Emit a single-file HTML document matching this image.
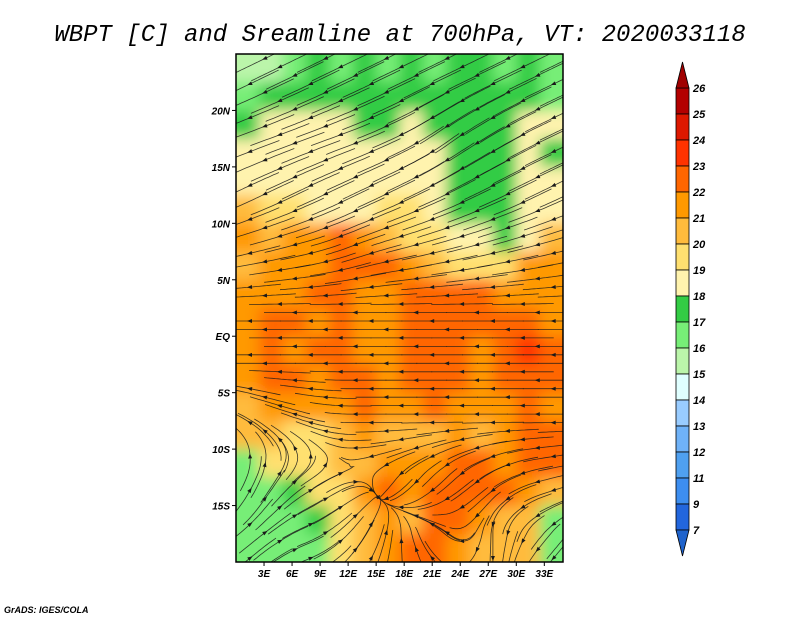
<!DOCTYPE html>
<html><head><meta charset="utf-8"><style>
body{margin:0;background:#fff;width:800px;height:618px;overflow:hidden}
svg{display:block}
</style></head><body>
<svg id="chart" width="800" height="618" viewBox="0 0 800 618" xmlns="http://www.w3.org/2000/svg">
<defs>
<clipPath id="mapclip"><rect x="236" y="54" width="327" height="508"/></clipPath>
<filter id="blur" x="-5%" y="-5%" width="110%" height="110%"><feGaussianBlur stdDeviation="7"/></filter>
</defs>
<text x="400" y="41" text-anchor="middle" font-family="Liberation Mono, monospace" font-style="italic" font-size="24" fill="#000">WBPT [C] and Sreamline at 700hPa, VT: 2020033118</text>
<g id="field" clip-path="url(#mapclip)"><g id="cells" filter="url(#blur)"></g></g>
<g id="streams" clip-path="url(#mapclip)"></g>
<rect x="236" y="54" width="327" height="508" fill="none" stroke="#000" stroke-width="1.5"/>
<g id="axes"></g>
<g id="cbar"></g>
<text x="4" y="613" font-family="Liberation Sans, sans-serif" font-style="italic" font-weight="bold" font-size="9">GrADS: IGES/COLA</text>
</svg>
<script>
// WBPT field, 2.5° cells, lon 0..35E, lat 25N..20S
const fieldRows = [
[15,15.5,16.5,17,16.5,17,16.5,17,16.5,17,17,16.5,17,16.5],
[16.5,17,17,17,17,17.5,17,17,17,17.5,17,17,17,16.5],
[17.5,18.5,18.5,18.5,18.5,17.5,17.5,18.5,17.5,17.5,17.5,17.5,18.5,18.5],
[18.5,18.5,18.5,18.5,18.5,18.5,18.5,18.5,18.5,17.5,17.5,17.5,18.5,17.5],
[18.5,18.5,18.5,18.5,18.5,18.5,18.5,18.5,18.5,17.5,17.5,17.5,18.5,18.5],
[20.5,19.5,19.5,18.5,18.5,18.5,19.5,19.5,18.5,17.5,17.5,17.5,18.5,18.5],
[21.5,20.5,21.5,21.5,22.5,21.5,20.5,19.5,19.5,18.5,18.5,17.5,18.5,20.5],
[20.5,21.5,21.5,21.5,22.5,22.5,22.5,21.5,20.5,19.5,19.5,19.5,21.5,21.5],
[21.5,21.5,21.5,22.5,22.5,21.5,21.5,22.5,22.5,22.5,22.5,21.5,21.5,21.5],
[21.5,22.5,22.5,21.5,22.5,21.5,21.5,22.5,22.5,22.5,22.5,22.5,22.5,21.5],
[21.5,22.5,21.5,22.5,22.5,21.5,21.5,22.5,22.5,22.5,21.5,22.5,23.5,22.5],
[21.5,22.5,22.5,21.5,22.5,22.5,21.5,22.5,22.5,22.5,21.5,22.5,22.5,22.5],
[20.5,21.5,21.5,21.5,21.5,22.5,21.5,21.5,22.5,21.5,21.5,21.5,22.5,21.5],
[20.5,20.5,19.5,19.5,20.5,21.5,20.5,20.5,20.5,21.5,20.5,21.5,22.5,22.5],
[16.5,19.5,19.5,19.5,20.5,20.5,21.5,21.5,21.5,22.5,22.5,21.5,22.5,22.5],
[16.5,16.5,17.5,19.5,19.5,21.5,22.5,21.5,22.5,22.5,22.5,22.5,21.5,20.5],
[16.5,16.5,16.5,17.5,19.5,20.5,21.5,20.5,22.5,22.5,21.5,20.5,20.5,16.5],
[16.5,16.5,16.5,16.5,19.5,20.5,21.5,22.5,22.5,21.5,20.5,20.5,20.5,16.5]
];
// wind field, 5° cells, lon centers 2.5..32.5, lat centers 22.5..-17.5
const windU = [
[-1,-1,-1,-1,-1,-1,-1],
[-1,-1,-1,-1,-1,-1,-1],
[-1,-1,-1,-1,-1,-1,-1],
[-1,-1,-1,-1,-1,-1,-1],
[-1,-1,-1,-1,-1,-1,-1],
[-1,-1,-1,-1,-1,-1,-1],
[-0.6,-0.8,-1,-1,-1,-1,-1],
[0.3,0.5,0.2,-0.3,-0.6,-0.8,-1],
[0.6,0.6,0.3,0,-0.3,0,-0.3]
];
const windV = [
[-0.4,-0.4,-0.4,-0.4,-0.4,-0.4,-0.4],
[-0.3,-0.3,-0.3,-0.4,-0.6,-0.5,-0.4],
[-0.4,-0.4,-0.4,-0.4,-0.4,-0.4,-0.4],
[-0.2,-0.2,-0.3,-0.2,-0.2,-0.2,-0.2],
[0,0,0,0,0,0,0],
[0,0,0,0,0,0,0],
[0.3,0.2,0,0,0,0,0],
[0.6,0.3,0,-0.3,-0.5,-0.4,-0.2],
[0.4,0.2,0.3,0.3,0.2,-0.4,-0.3]
];
const levels = [7,9,11,12,13,14,15,16,17,18,19,20,21,22,23,24,25,26];
const levelColors = ["#2266dd","#3d8ef0","#4fa0f0","#6fb2f8","#99ccff","#e0ffff","#bbf5aa","#77ee77","#33cc44","#fff3ae","#ffe070","#ffbb3c","#ff9900","#ff6600","#ff3300","#dd1800","#b30000"];
const lonTicks = [3,6,9,12,15,18,21,24,27,30,33];
const lonLabels = ["3E","6E","9E","12E","15E","18E","21E","24E","27E","30E","33E"];
const latTicks = [20,15,10,5,0,-5,-10,-15];
const latLabels = ["20N","15N","10N","5N","EQ","5S","10S","15S"];

const X0=236,X1=563,Y0=54,Y1=562,LON0=0,LON1=35,LAT0=25,LAT1=-20;
const xs = lon => X0+(lon-LON0)/(LON1-LON0)*(X1-X0);
const ys = lat => Y0+(LAT0-lat)/(LAT0-LAT1)*(Y1-Y0);
const NS="http://www.w3.org/2000/svg";
function mk(tag,attrs,parent){const e=document.createElementNS(NS,tag);for(const k in attrs)e.setAttribute(k,attrs[k]);parent.appendChild(e);return e;}
function colorFor(v){for(let i=0;i<levels.length-1;i++){if(v<levels[i+1])return levelColors[i];}return levelColors[levelColors.length-1];}

const cells=document.getElementById('cells');
fieldRows.forEach((row,r)=>row.forEach((v,c)=>{
  const lonA=c*2.5, latA=25-r*2.5;
  const x=xs(lonA), y=ys(latA);
  const pad=20;
  const left=c===0, right=c===row.length-1, top=r===0, bot=r===fieldRows.length-1;
  const e=mk('rect',{x:x-(left?pad:0),y:y-(top?pad:0),width:xs(lonA+2.5)-x+(left?pad:0)+(right?pad:0.5),height:ys(latA-2.5)-y+(top?pad:0)+(bot?pad:0.5),fill:colorFor(v)},cells);
  
  
}));

function wind(lon,lat){
  let fc=(lon-2.5)/5, fr=(22.5-lat)/5;
  fc=Math.max(0,Math.min(6,fc)); fr=Math.max(0,Math.min(8,fr));
  const c0=Math.floor(Math.min(fc,5.999)), r0=Math.floor(Math.min(fr,7.999));
  const tx=fc-c0, ty=fr-r0;
  const b=(A)=>A[r0][c0]*(1-tx)*(1-ty)+A[r0][c0+1]*tx*(1-ty)+A[r0+1][c0]*(1-tx)*ty+A[r0+1][c0+1]*tx*ty;
  return [b(windU),b(windV)];
}
const streams=document.getElementById('streams');
function trace(lon,lat,dir,n){
  const pts=[];let x=lon,y=lat;
  for(let i=0;i<n;i++){
    pts.push([x,y]);
    const [u,v]=wind(x,y);const m=Math.hypot(u,v)||1;
    x+=dir*u/m*0.3;y+=dir*v/m*0.3;
    if(x<-1||x>36||y>26||y<-21)break;
  }
  return pts;
}
let k=0;
for(let lat=24.6;lat>-20.5;lat-=0.75){
  k++;
  for(let lon=1.5+(k%4)*1.6;lon<36;lon+=6.5){
    const back=trace(lon,lat,-1,12).reverse();
    const fwd=trace(lon,lat,1,12);
    const pts=back.concat(fwd.slice(1));
    if(pts.length<3)continue;
    const d=pts.map((p,i)=>(i?'L':'M')+xs(p[0]).toFixed(1)+' '+ys(p[1]).toFixed(1)).join('');
    const pl=mk('path',{d:d,fill:'none',stroke:'#1a1a1a','stroke-width':0.8,'stroke-opacity':0.85},streams);
    
    
    const [u,v]=wind(lon,lat);const m=Math.hypot(u,v)||1;
    const ax=xs(lon),ay=ys(lat),dx=u/m,dy=-v/m;
    const ah=mk('path',{d:`M${ax+dx*3} ${ay+dy*3}L${ax-dx*2-dy*2} ${ay-dy*2+dx*2}L${ax-dx*2+dy*2} ${ay-dy*2-dx*2}Z`,fill:'#1a1a1a'},streams);
    
    
  }
}

const axes=document.getElementById('axes');
lonTicks.forEach((lon,i)=>{
  const x=xs(lon);
  const t=mk('line',{x1:x,x2:x,y1:Y1,y2:Y1+4,stroke:'#000'},axes);
  
  const l=mk('text',{x:x,y:Y1+15,'text-anchor':'middle','font-family':'Liberation Sans, sans-serif','font-style':'italic','font-weight':'bold','font-size':10},axes);
  l.textContent=lonLabels[i];
  
});
latTicks.forEach((lat,i)=>{
  const y=ys(lat);
  const t=mk('line',{x1:X0-4,x2:X0,y1:y,y2:y,stroke:'#000'},axes);
  
  const l=mk('text',{x:X0-6,y:y+4,'text-anchor':'end','font-family':'Liberation Sans, sans-serif','font-style':'italic','font-weight':'bold','font-size':10},axes);
  l.textContent=latLabels[i];
  
});

const cb=document.getElementById('cbar');
const CX=676,CW=13,CTOP=88,BH=26,NB=levelColors.length;
levelColors.slice().reverse().forEach((col,i)=>{
  const r=mk('rect',{x:CX,y:CTOP+i*BH,width:CW,height:BH,fill:col,stroke:'#000','stroke-width':0.8},cb);
  
});
const ta=mk('path',{d:`M${CX} ${CTOP}L${CX+CW/2} 62L${CX+CW} ${CTOP}Z`,fill:'#a00000',stroke:'#000','stroke-width':0.8},cb);

const by=CTOP+NB*BH;
const ba=mk('path',{d:`M${CX} ${by}L${CX+CW/2} ${by+26}L${CX+CW} ${by}Z`,fill:'#1f63cc',stroke:'#000','stroke-width':0.8},cb);

levels.slice().reverse().forEach((lv,i)=>{
  const l=mk('text',{x:CX+17,y:CTOP+i*BH+4,'font-family':'Liberation Sans, sans-serif','font-style':'italic','font-weight':'bold','font-size':11},cb);
  l.textContent=lv;
  
});
</script>
</body></html>
